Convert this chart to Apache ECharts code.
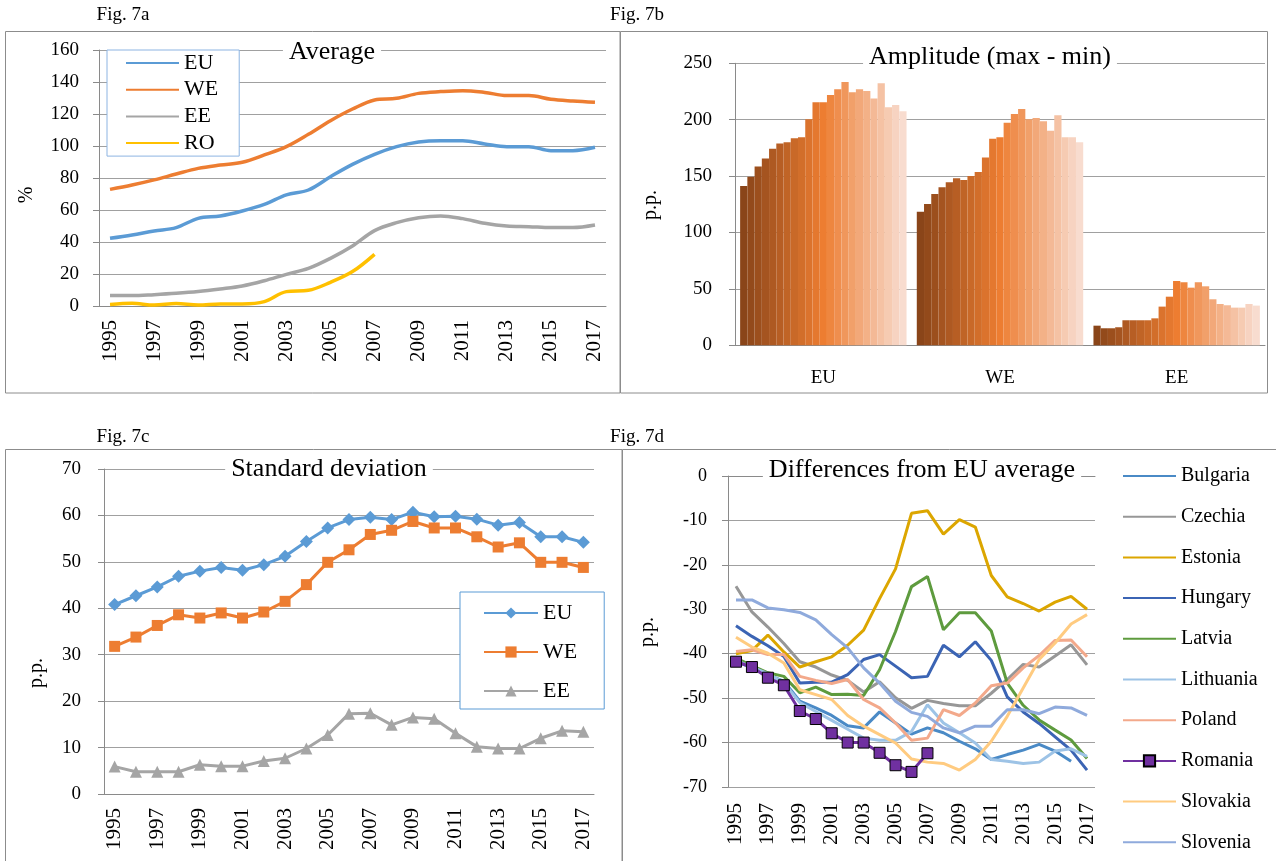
<!DOCTYPE html>
<html><head><meta charset="utf-8">
<script src="https://cdn.jsdelivr.net/npm/echarts@6/dist/echarts.min.js"></script>
<style>html,body{margin:0;padding:0;background:#fff}#c{width:1276px;height:861px}</style>
</head><body><div id="c"></div>
<script>
const years = ['1995','1996','1997','1998','1999','2000','2001','2002','2003','2004','2005','2006','2007','2008','2009','2010','2011','2012','2013','2014','2015','2016','2017'];

// Fig. 7a  Average (%)
const avgEU = [42.3,44.4,46.9,49.0,54.8,56.3,59.4,63.5,69.4,72.5,80.8,88.5,94.8,99.6,102.5,103.3,103.3,101.3,99.6,99.6,97.1,97.1,99.2];
const avgWE = [72.9,75.6,78.8,82.5,86.0,88.1,89.8,94.4,99.6,107.3,115.8,123.1,128.8,129.8,132.9,134.0,134.6,133.5,131.5,131.5,129.2,128.1,127.3];
const avgEE = [6.5,6.5,7.1,7.9,9.0,10.6,12.5,15.8,19.8,23.5,29.8,37.5,47.1,52.1,55.2,56.3,54.6,51.7,50.0,49.6,49.0,49.0,50.6];
const avgRO = [1.0,1.7,0.6,1.5,0.6,1.3,1.3,2.7,9.0,9.8,14.8,21.5,32.3,null,null,null,null,null,null,null,null,null,null];

// Fig. 7b  Amplitude (p.p.), one bar per year in each group
const ampGroups = ['EU','WE','EE'];
const ampEU = [141.3,149.5,158.4,165.5,174.3,178.8,180.0,183.5,184.4,200.4,215.4,215.4,221.9,227.0,233.5,224.3,227.0,225.5,218.7,232.3,211.0,213.0,207.4];
const ampWE = [118.5,125.3,134.2,140.1,144.5,148.0,146.6,150.1,153.7,166.4,183.2,184.4,197.4,205.1,209.5,200.4,201.5,198.6,190.3,203.9,184.4,184.4,180.0];
const ampEE = [17.4,15.1,15.1,16.0,22.2,22.2,22.2,22.2,23.9,34.3,43.1,57.0,55.9,51.1,55.9,52.3,40.8,36.6,35.5,33.4,33.4,36.6,35.2];

// Fig. 7c  Standard deviation (p.p.)
const sdEU = [40.8,42.7,44.6,46.9,48.0,48.8,48.2,49.4,51.2,54.4,57.3,59.1,59.6,59.1,60.7,59.7,59.8,59.2,57.9,58.5,55.4,55.4,54.2];
const sdWE = [31.8,33.8,36.3,38.6,37.9,39.0,37.9,39.2,41.5,45.1,49.9,52.6,55.9,56.8,58.7,57.3,57.3,55.4,53.2,54.1,49.9,49.9,48.8];
const sdEE = [5.9,4.8,4.8,4.8,6.3,6.0,6.0,7.1,7.7,9.8,12.7,17.3,17.4,14.9,16.5,16.2,13.1,10.2,9.8,9.8,12.0,13.6,13.4];

// Fig. 7d  Differences from EU average (p.p.)
const countries = ['Bulgaria','Czechia','Estonia','Hungary','Latvia','Lithuania','Poland','Romania','Slovakia','Slovenia'];
const dBulgaria  = [-41.7,-43.2,-44.7,-46.2,-50.7,-52.2,-53.9,-56.2,-56.7,-53.1,-55.6,-58.1,-56.7,-57.8,-59.7,-61.4,-63.8,-62.7,-61.7,-60.4,-61.9,-64.2,null];
const dCzechia   = [-24.8,-30.6,-34.0,-37.7,-41.8,-43.0,-44.8,-46.0,-48.6,-46.3,-49.9,-52.3,-50.5,-51.2,-51.7,-51.7,-48.9,-45.8,-42.4,-43.0,-40.5,-38.0,-42.5];
const dEstonia   = [-40.0,-39.3,-35.8,-39.6,-43.0,-41.8,-40.7,-38.1,-34.7,-27.6,-20.9,-8.4,-7.8,-13.1,-9.8,-11.5,-22.4,-27.2,-28.7,-30.4,-28.4,-27.1,-30.0];
const dHungary   = [-33.7,-36.1,-38.2,-40.6,-46.6,-46.4,-46.4,-44.7,-41.3,-40.2,-42.8,-45.4,-45.1,-38.1,-40.7,-37.3,-41.5,-49.7,-53.1,-55.7,-58.7,-61.7,-66.2];
const dLatvia    = [-41.0,-42.7,-44.3,-45.1,-48.8,-47.5,-49.2,-49.1,-49.4,-43.6,-35.0,-24.9,-22.6,-34.6,-30.8,-30.8,-34.9,-46.6,-51.6,-54.9,-57.2,-59.4,-63.6];
const dLithuania = [-41.5,-43.0,-44.5,-46.5,-51.0,-53.0,-55.0,-57.0,-59.0,-59.5,-59.5,-57.5,-51.5,-55.6,-57.8,-60.1,-63.8,-64.2,-64.7,-64.4,-61.9,-61.4,-63.1];
const dPoland    = [-39.5,-39.1,-40.2,-40.2,-45.1,-46.0,-46.7,-45.8,-50.3,-52.2,-55.6,-59.5,-59.0,-52.6,-53.9,-51.1,-47.2,-46.6,-43.2,-40.4,-37.0,-36.9,-40.7];
const dRomania   = [-41.8,-43.0,-45.4,-47.1,-52.9,-54.7,-57.9,-60.0,-60.0,-62.3,-65.1,-66.6,-62.4,null,null,null,null,null,null,null,null,null,null];
const dSlovakia  = [-36.3,-38.5,-39.9,-42.1,-48.1,-49.2,-50.3,-53.9,-56.3,-58.2,-60.1,-63.7,-64.4,-64.7,-66.2,-63.8,-59.7,-54.1,-47.7,-41.3,-37.6,-33.3,-31.2];
const dSlovenia  = [-27.9,-27.9,-29.7,-30.1,-30.7,-32.4,-35.7,-38.7,-43.2,-46.6,-50.7,-53.2,-54.1,-56.7,-57.8,-56.3,-56.3,-52.6,-52.6,-53.5,-52.0,-52.2,-53.9];
const diffData = [dBulgaria,dCzechia,dEstonia,dHungary,dLatvia,dLithuania,dPoland,dRomania,dSlovakia,dSlovenia];
const diffColors = ['#4a8ac6','#979797','#dca600','#3b64b4','#5e9b3e','#9dc3e6','#f3a98b','#7030a0','#ffcb80','#8faadc'];

const FONT = '"Liberation Serif", "Times New Roman", serif';
const AX = '#8a8a8a', GRID = '#a0a0a0';

function hex(c){return [parseInt(c.slice(1,3),16),parseInt(c.slice(3,5),16),parseInt(c.slice(5,7),16)];}
function mix(a,b,t){const A=hex(a),B=hex(b);return 'rgb('+A.map((v,i)=>Math.round(v+(B[i]-v)*t)).join(',')+')';}
const barColors = years.map((y,i)=> i<=11 ? mix('#8a4519','#ed7d31',i/11) : mix('#ed7d31','#f8dccf',(i-11)/11));

function catAxis(gi, margin){
  return {type:'category', gridIndex:gi, data:years, boundaryGap:true,
    axisLine:{lineStyle:{color:AX}}, axisTick:{interval:0, length:6, lineStyle:{color:AX}},
    axisLabel:{interval:1, rotate:90, fontSize:21, color:'#000', fontFamily:FONT, margin:margin}};
}
function valAxis(gi, min, max, interval, margin, fs){
  return {type:'value', gridIndex:gi, min:min, max:max, interval:interval,
    axisLine:{show:true, lineStyle:{color:AX}}, axisTick:{show:true, length:6, lineStyle:{color:AX}},
    splitLine:{show:true, lineStyle:{color:GRID, width:1}},
    axisLabel:{fontSize:fs||19, color:'#000', fontFamily:FONT, margin:margin}};
}

const series = [];
// 7a
[['EU',avgEU,'#5b9bd5'],['WE',avgWE,'#ed7d31'],['EE',avgEE,'#a5a5a5'],['RO',avgRO,'#ffc000']].forEach(s=>{
  series.push({type:'line', name:s[0], xAxisIndex:0, yAxisIndex:0, data:s[1], smooth:0.35, symbol:'none',
    lineStyle:{color:s[2], width:3.5}, itemStyle:{color:s[2]}, connectNulls:false});
});
// 7b
years.forEach((y,i)=>{
  series.push({type:'bar', name:'amp'+y, xAxisIndex:1, yAxisIndex:1, data:[ampEU[i],ampWE[i],ampEE[i]],
    itemStyle:{color:barColors[i]}, barGap:'0%', barCategoryGap:'5.8%'});
});
// 7c
[['sdEU',sdEU,'#5b9bd5','diamond',13],['sdWE',sdWE,'#ed7d31','rect',11],['sdEE',sdEE,'#a5a5a5','triangle',12]].forEach(s=>{
  series.push({type:'line', name:s[0], xAxisIndex:2, yAxisIndex:2, data:s[1], symbol:s[3], symbolSize:s[4],
    showAllSymbol:true, lineStyle:{color:s[2], width:3}, itemStyle:{color:s[2]}});
});
// 7d
countries.forEach((c,k)=>{
  const isRO = c==='Romania';
  series.push({type:'line', name:c, xAxisIndex:3, yAxisIndex:3, data:diffData[k],
    symbol: isRO?'rect':'none', symbolSize:11, showAllSymbol:true, z: isRO?3:2,
    lineStyle:{color:diffColors[k], width:3},
    itemStyle: isRO?{color:'#7030a0', borderColor:'#000', borderWidth:1}:{color:diffColors[k]}});
});

function txt(x,y,text,size,opt){
  return Object.assign({type:'text', x:x, y:y, z:100,
    style:{text:text, font:size+'px '+FONT, fill:'#000', align:'center', verticalAlign:'middle'}}, opt||{});
}
function box(x,y,w,h){
  return {type:'rect', shape:{x:x,y:y,width:w,height:h}, z:100, style:{fill:'none', stroke:'#8c8c8c', lineWidth:1}};
}
const titleStyle = (x,y,t)=>({type:'text', x:x, y:y, z:100,
  style:{text:t, font:'26px '+FONT, fill:'#000', align:'center', verticalAlign:'middle', backgroundColor:'#fff', padding:[0,6]}});

const hideSym = {opacity:0};
const option = {
  animation:false,
  textStyle:{fontFamily:FONT},
  grid:[
    {left:99, top:50, width:507, height:256},
    {left:735, top:63.3, width:530, height:282},
    {left:104, top:469, width:490, height:325},
    {left:728, top:476, width:367, height:311}
  ],
  xAxis:[
    catAxis(0,14),
    {type:'category', gridIndex:1, data:ampGroups, boundaryGap:true,
      axisLine:{lineStyle:{color:AX}}, axisTick:{interval:0, length:7, lineStyle:{color:AX}},
      axisLabel:{fontSize:19, color:'#000', fontFamily:FONT, margin:23}},
    catAxis(2,14),
    Object.assign(catAxis(3,16), {axisLine:{show:false}, axisTick:{show:false}}),
    {type:'category', gridIndex:3, data:years, position:'top', boundaryGap:true,
      axisLine:{lineStyle:{color:AX}}, axisTick:{interval:0, inside:true, length:6, lineStyle:{color:AX}},
      axisLabel:{show:false}}
  ],
  yAxis:[
    valAxis(0,0,160,20,20),
    valAxis(1,0,250,50,23),
    valAxis(2,0,70,10,23),
    valAxis(3,-70,0,10,21,18)
  ],
  legend:[
    {data:['EU','WE','EE','RO'].map(n=>({name:n, itemStyle:hideSym})), left:107, top:50, orient:'vertical',
      itemWidth:53, itemHeight:14, itemGap:4.7,
      padding:[2,21,2,18], backgroundColor:'#fff', borderColor:'#8db4e2', borderWidth:1,
      textStyle:{fontSize:22, lineHeight:22, color:'#000', fontFamily:FONT}},
    {data:['sdEU','sdWE','sdEE'], left:460, top:592, orient:'vertical', itemWidth:54, itemHeight:14, itemGap:17,
      padding:[10,27,7,23], backgroundColor:'#fff', borderColor:'#5b9bd5', borderWidth:1,
      formatter:n=>n.slice(2), textStyle:{fontSize:22, lineHeight:22, color:'#000', fontFamily:FONT}},
    {data:countries.map(c=> c==='Romania' ? c : {name:c, itemStyle:hideSym}),
      left:1122, top:465, orient:'vertical', itemWidth:53, itemHeight:14, itemGap:18.7,
      padding:0, textStyle:{fontSize:20, lineHeight:22, color:'#000', fontFamily:FONT}}
  ],
  series:series,
  graphic:[
    box(5.5,31.5,614.5,361.5),
    box(620.5,31.5,647,361.5),
    box(5.5,449.5,616.5,430),
    box(622.5,449.5,680,430),
    txt(123,15,'Fig. 7a',19),
    txt(637,15,'Fig. 7b',19),
    txt(123,437,'Fig. 7c',19),
    txt(637,437,'Fig. 7d',19),
    titleStyle(332,52,'Average'),
    titleStyle(990,57,'Amplitude (max - min)'),
    titleStyle(329,469,'Standard deviation'),
    titleStyle(922,470,'Differences from EU average'),
    txt(27,195,'%',20,{rotation:Math.PI/2}),
    txt(651,205,'p.p.',20,{rotation:Math.PI/2}),
    txt(37,673,'p.p.',20,{rotation:Math.PI/2}),
    txt(648,632,'p.p.',20,{rotation:Math.PI/2})
  ]
};
const chart = echarts.init(document.getElementById('c'), null, {renderer:'canvas'});
chart.setOption(option);
</script></body></html>
